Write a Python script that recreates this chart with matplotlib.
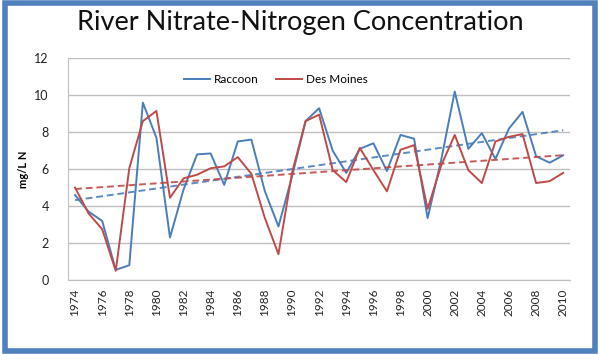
import numpy as np
import matplotlib
matplotlib.use("Agg")
from matplotlib import pyplot as plt
from matplotlib.patches import Rectangle

plt.rcParams['font.family'] = ['Lato', 'DejaVu Sans']

years = list(range(1974, 2011))
raccoon = [4.6, 3.7, 3.2, 0.55, 0.8, 9.6, 7.7, 2.3, 4.9, 6.8, 6.85, 5.15, 7.5, 7.6,
           4.8, 2.9, 5.6, 8.6, 9.3, 7.0, 5.8, 7.1, 7.4, 5.9, 7.85, 7.65, 3.35,
           6.5, 10.2, 7.1, 7.95, 6.55, 8.2, 9.1, 6.7, 6.35, 6.75]
desmoines = [5.0, 3.6, 2.75, 0.5, 6.05, 8.6, 9.15, 4.45, 5.5, 5.7, 6.05, 6.15, 6.65, 5.75,
             3.35, 1.4, 5.8, 8.6, 8.95, 5.95, 5.3, 7.15, 5.95, 4.8, 7.05, 7.3, 3.85,
             6.2, 7.85, 5.95, 5.25, 7.5, 7.75, 7.9, 5.25, 5.35, 5.8]
series_names = ['Raccoon', 'Des Moines']
colors = ['#4A7EBB', '#BE4B48']
tick_years = list(range(1974, 2011, 2))

fig = plt.figure(figsize=(6, 3.54), dpi=100)
fig.patch.set_facecolor('white')
ax = fig.add_axes([0.1138, 0.209, 0.8362, 0.6263])

x = np.array(years)
for vals, name, c in zip([raccoon, desmoines], series_names, colors):
    ax.plot(x, vals, color=c, lw=1.4, label=name)
    # linear trend, like Excel's trendline
    k, b = np.polyfit(x, vals, 1)
    ax.plot(x, k * x + b, color=c, lw=1.4, ls=(0, (3.5, 2)), alpha=0.9)

ax.set_xlim(1973.5, 2010.5)
ax.set_ylim(0, 12)
ax.set_yticks(range(0, 13, 2))
ax.set_xticks(tick_years)
ax.set_xticklabels([str(t) for t in tick_years], rotation=90, fontsize=8.5, color='#222222')
ax.tick_params(axis='y', labelsize=9, length=0, pad=14, colors='#222222')
ax.tick_params(axis='x', length=0, pad=6)
ax.grid(axis='y', color='#BFBFBF', lw=1)
ax.set_axisbelow(True)
for s in ['top', 'right']:
    ax.spines[s].set_visible(False)
for s in ['left', 'bottom']:
    ax.spines[s].set_color('#BFBFBF')
ax.set_ylabel('mg/L N', fontsize=8, fontweight='bold', labelpad=4)

ax.legend(loc='center', bbox_to_anchor=(0.414, 0.905), ncol=2, frameon=False,
          fontsize=8.5, handlelength=2.2, columnspacing=1.5, handletextpad=0.3)

fig.text(0.5, 0.937, 'River Nitrate-Nitrogen Concentration', ha='center', va='center',
         fontsize=19.5, color='#111111')

fig.patches.append(Rectangle((0.009, 0.009), 0.982, 0.982, transform=fig.transFigure,
                             fill=False, edgecolor='#4F81BD', lw=4))

fig.savefig('out.png', dpi=100)
